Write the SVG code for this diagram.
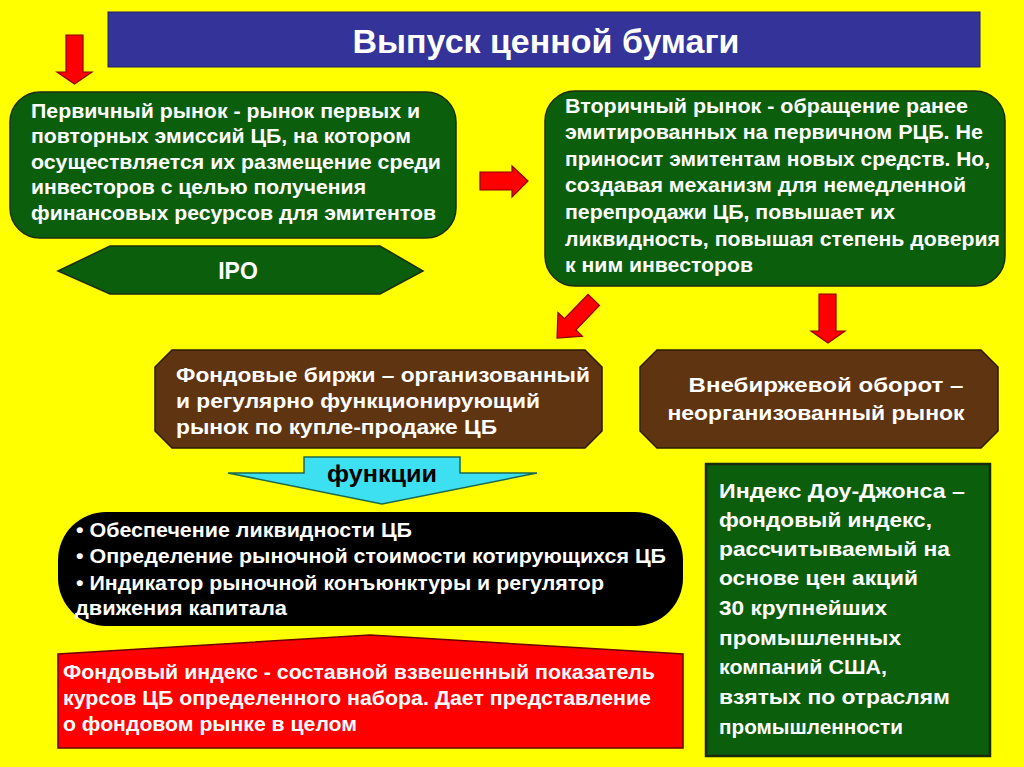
<svg xmlns="http://www.w3.org/2000/svg" width="1024" height="767" viewBox="0 0 1024 767">
  <style>
    text { font-family: "Liberation Sans", Arial, sans-serif; font-weight: bold; }
    .w { fill: #ffffff; font-size: 20px; }
    .dj { fill: #ffffff; font-size: 21px; }
    .nar { fill: #ffffff; font-size: 20px; font-family: "Liberation Sans Narrow", "Liberation Sans", Arial, sans-serif; }
    .green { fill: #0b5e0b; stroke: #1c2e10; stroke-width: 1.5; }
    .brown { fill: #5f3410; stroke: #2e1a06; stroke-width: 1.5; }
    .arrow { fill: #ff0000; stroke: #8a0000; stroke-width: 1.2; }
  </style>
  <rect x="0" y="0" width="1024" height="767" fill="#ffff00"/>

  <g id="title">
    <rect x="108" y="12" width="872" height="55" fill="#333399" stroke="#222266" stroke-width="1"/>
    <text x="546" y="53" text-anchor="middle" fill="#ffffff" font-size="33" font-family="'Liberation Sans Narrow', 'Liberation Sans', Arial, sans-serif" textLength="387" lengthAdjust="spacingAndGlyphs">Выпуск ценной бумаги</text>
  </g>

  <g id="connectors">
    <polygon class="arrow" points="66,35 83,35 83,72 92,72 74.5,84 57,72 66,72"/>
    <polygon class="arrow" points="480,172 512,172 512,166 528,181 512,197 512,190 480,190"/>
    <polygon class="arrow" transform="translate(557,338) rotate(134)" points="-53,-8 -19,-8 -19,-17 0,0 -19,17 -19,8 -53,8"/>
    <polygon class="arrow" points="819,294 836,294 836,331 845,331 828,343 811,331 819,331"/>
  </g>

  <g id="primary">
    <rect class="green" x="10" y="92" width="446" height="146" rx="30" ry="30"/>
    <text class="w" x="31" y="118" textLength="389" lengthAdjust="spacingAndGlyphs">Первичный рынок - рынок первых и</text>
    <text class="w" x="31" y="143" textLength="380" lengthAdjust="spacingAndGlyphs">повторных эмиссий ЦБ, на котором</text>
    <text class="w" x="31" y="169" textLength="410" lengthAdjust="spacingAndGlyphs">осуществляется их размещение среди</text>
    <text class="w" x="31" y="194" textLength="335" lengthAdjust="spacingAndGlyphs">инвесторов с целью получения</text>
    <text class="w" x="31" y="220" textLength="405" lengthAdjust="spacingAndGlyphs">финансовых ресурсов для эмитентов</text>
  </g>

  <g id="ipo">
    <polygon class="green" points="58,271 110,246 380,246 423,271 380,294 110,294"/>
    <text x="238" y="279" text-anchor="middle" fill="#ffffff" font-size="23">IPO</text>
  </g>

  <g id="secondary">
    <rect class="green" x="545" y="91" width="460" height="195" rx="30" ry="30"/>
    <text class="w" x="565" y="113" textLength="403" lengthAdjust="spacingAndGlyphs">Вторичный рынок - обращение ранее</text>
    <text class="w" x="565" y="139" textLength="418" lengthAdjust="spacingAndGlyphs">эмитированных на первичном РЦБ. Не</text>
    <text class="w" x="565" y="166" textLength="425" lengthAdjust="spacingAndGlyphs">приносит эмитентам новых средств. Но,</text>
    <text class="w" x="565" y="192" textLength="401" lengthAdjust="spacingAndGlyphs">создавая механизм для немедленной</text>
    <text class="w" x="565" y="219" textLength="330" lengthAdjust="spacingAndGlyphs">перепродажи ЦБ, повышает их</text>
    <text class="w" x="565" y="246" textLength="435" lengthAdjust="spacingAndGlyphs">ликвидность, повышая степень доверия</text>
    <text class="w" x="565" y="272" textLength="188" lengthAdjust="spacingAndGlyphs">к ним инвесторов</text>
  </g>

  <g id="exchange">
    <polygon class="brown" points="172,350 585,350 602,367 602,431 585,448 172,448 155,431 155,367"/>
    <text class="w" x="176" y="382" textLength="414" lengthAdjust="spacingAndGlyphs">Фондовые биржи – организованный</text>
    <text class="w" x="176" y="408" textLength="364" lengthAdjust="spacingAndGlyphs">и регулярно функционирующий</text>
    <text class="w" x="176" y="434" textLength="321" lengthAdjust="spacingAndGlyphs">рынок по купле-продаже ЦБ</text>
  </g>

  <g id="otc">
    <polygon class="brown" points="657,350 981,350 998,367 998,431 981,448 657,448 640,431 640,367"/>
    <text class="w" x="826" y="392" text-anchor="middle" textLength="275" lengthAdjust="spacingAndGlyphs">Внебиржевой оборот –</text>
    <text class="w" x="816" y="420" text-anchor="middle" textLength="297" lengthAdjust="spacingAndGlyphs">неорганизованный рынок</text>
  </g>

  <g id="functions">
    <polygon points="304,457 460,457 460,473 537,473 382,504 228,473 304,473" fill="#3ce0f0" stroke="#1a6a50" stroke-width="1.5"/>
    <text x="382" y="482" text-anchor="middle" fill="#000000" font-size="23" textLength="110" lengthAdjust="spacingAndGlyphs">функции</text>
  </g>

  <g id="functions-list">
    <rect x="58" y="512" width="625" height="114" rx="48" ry="48" fill="#000000"/>
    <text class="nar" x="76" y="537" textLength="336" lengthAdjust="spacingAndGlyphs">• Обеспечение ликвидности ЦБ</text>
    <text class="nar" x="76" y="563" textLength="590" lengthAdjust="spacingAndGlyphs">• Определение рыночной стоимости котирующихся ЦБ</text>
    <text class="nar" x="76" y="590" textLength="528" lengthAdjust="spacingAndGlyphs">• Индикатор рыночной конъюнктуры и регулятор</text>
    <text class="nar" x="75" y="615" textLength="212" lengthAdjust="spacingAndGlyphs">движения капитала</text>
  </g>

  <g id="stock-index">
    <polygon points="58,654 370,635 683,654 683,748 58,748" fill="#ff0000" stroke="#6a0000" stroke-width="1.5"/>
    <text class="nar" x="63" y="679" textLength="592" lengthAdjust="spacingAndGlyphs">Фондовый индекс - составной взвешенный показатель</text>
    <text class="nar" x="63" y="705" textLength="588" lengthAdjust="spacingAndGlyphs">курсов ЦБ определенного набора. Дает представление</text>
    <text class="nar" x="63" y="731" textLength="294" lengthAdjust="spacingAndGlyphs">о фондовом рынке в целом</text>
  </g>

  <g id="dow-jones">
    <rect x="706" y="464" width="284" height="292" fill="#0b5e0b" stroke="#1a2a10" stroke-width="2.5"/>
    <text class="dj" x="719" y="498" textLength="246" lengthAdjust="spacingAndGlyphs">Индекс Доу-Джонса –</text>
    <text class="dj" x="719" y="527" textLength="213" lengthAdjust="spacingAndGlyphs">фондовый индекс,</text>
    <text class="dj" x="719" y="556" textLength="231" lengthAdjust="spacingAndGlyphs">рассчитываемый на</text>
    <text class="dj" x="719" y="585" textLength="199" lengthAdjust="spacingAndGlyphs">основе цен акций</text>
    <text class="dj" x="719" y="615" textLength="168" lengthAdjust="spacingAndGlyphs">30 крупнейших</text>
    <text class="dj" x="719" y="645" textLength="182" lengthAdjust="spacingAndGlyphs">промышленных</text>
    <text class="dj" x="719" y="674" textLength="168" lengthAdjust="spacingAndGlyphs">компаний США,</text>
    <text class="dj" x="719" y="704" textLength="231" lengthAdjust="spacingAndGlyphs">взятых по отраслям</text>
    <text class="dj" x="719" y="734" textLength="184" lengthAdjust="spacingAndGlyphs">промышленности</text>
  </g>
</svg>
